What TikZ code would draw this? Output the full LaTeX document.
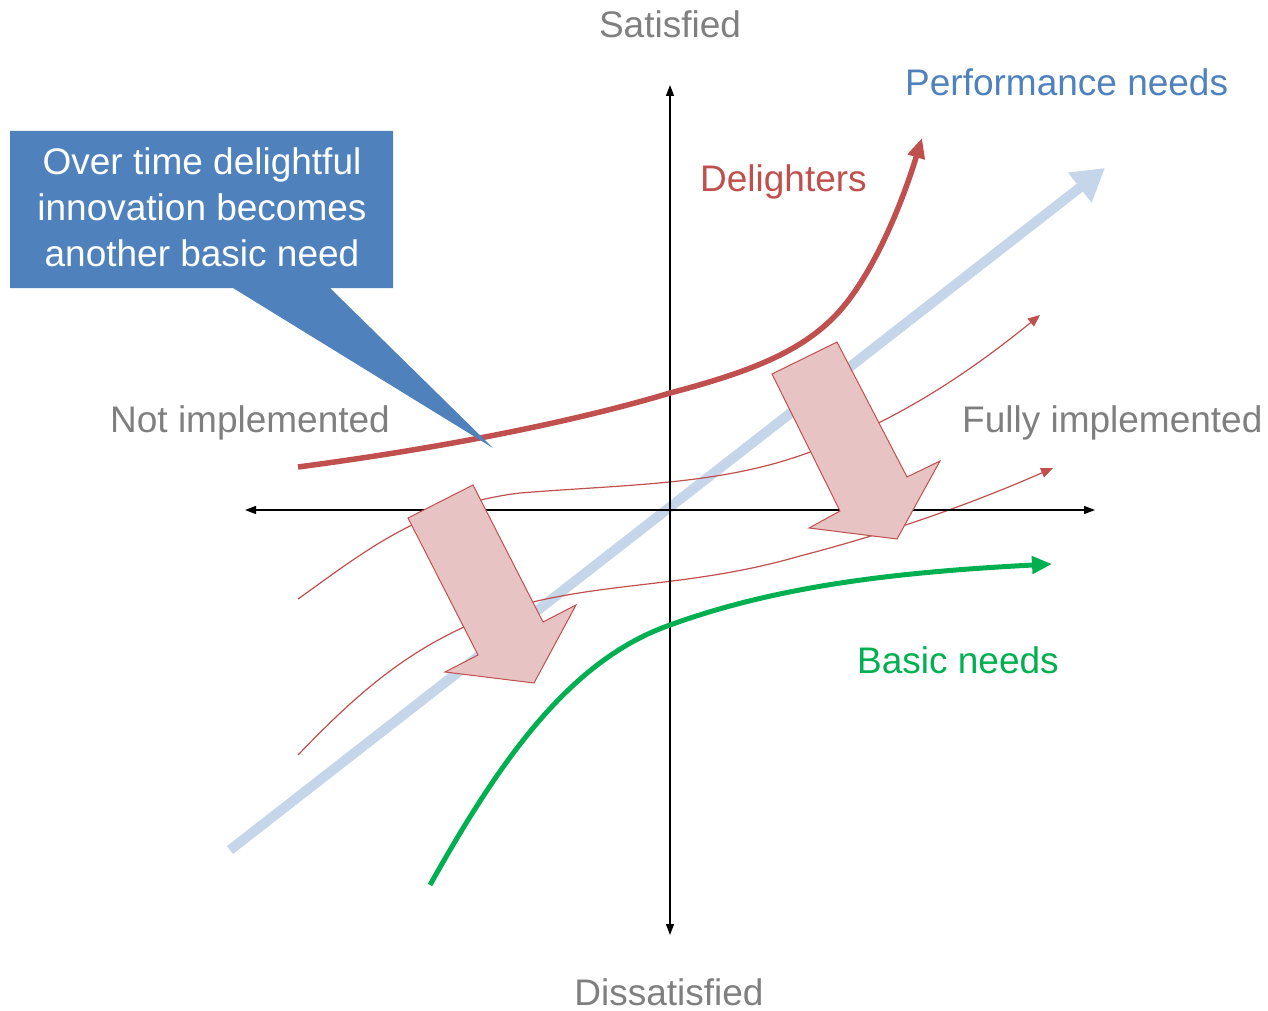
\documentclass[tikz,border=0pt]{standalone}
\usepackage{fontspec}
\setmainfont{Liberation Sans}
\usetikzlibrary{arrows.meta}
\definecolor{txtgray}{HTML}{7F7F7F}
\definecolor{dred}{HTML}{C0504D}
\definecolor{dblue}{HTML}{4F81BD}
\definecolor{lblue}{HTML}{C5D6EA}
\definecolor{dgreen}{HTML}{00B050}
\definecolor{pinkfill}{HTML}{E8C3C3}
\tikzset{
  lbl/.style={font=\fontsize{37}{46}\selectfont, inner sep=0pt},
  axisline/.style={line width=1.3pt, black, {Triangle[length=11pt,width=8pt]}-{Triangle[length=11pt,width=8pt]}},
  thincurve/.style={line width=1.2pt, dred, -{Triangle[length=12pt,width=10pt]}},
  bigarrow/.style={fill=pinkfill, draw=dred, line width=1pt, line join=miter},
}
\begin{document}
\begin{tikzpicture}[x=1pt,y=-1pt]
\useasboundingbox (0,0) rectangle (1268,1011);
% performance needs line
\coordinate (p0) at (230,850);
\coordinate (p1) at (1105,168);
\draw[line width=10pt, lblue, -{Triangle[length=32pt,width=36pt]}] (p0) -- (p1);
% thin transition curves
\coordinate (t1s) at (298,599);
\coordinate (t1e) at (1040,315);
\draw[thincurve] (t1s) .. controls (360,555) and (420,505) .. (520,493)
  .. controls (620,485) and (700,485) .. (780,462)
  .. controls (880,432) and (960,380) .. (t1e);
\coordinate (t2s) at (298,755);
\coordinate (t2e) at (1053,468);
\draw[thincurve] (t2s) .. controls (370,680) and (430,630) .. (537,601)
  .. controls (620,582) and (700,585) .. (800,556)
  .. controls (900,530) and (980,500) .. (t2e);
% axes
\coordinate (yb) at (670,935);
\coordinate (yt) at (670,85);
\coordinate (xl) at (245,510);
\coordinate (xr) at (1095,510);
\draw[axisline] (yb) -- (yt);
\draw[axisline] (xl) -- (xr);
% delighters
\coordinate (d0) at (298,467);
\coordinate (d1) at (922,138);
\draw[line width=5.5pt, dred, -{Triangle[length=20pt,width=17pt]}] (d0) .. controls (450,447) and (580,420) .. (670,393)
  .. controls (750,372) and (800,352) .. (835,316)
  .. controls (870,280) and (900,210) .. (d1);
% basic needs
\coordinate (g0) at (430,885);
\coordinate (g1) at (1052,564);
\draw[line width=5pt, dgreen, -{Triangle[length=20pt,width=17pt]}] (g0) .. controls (500,760) and (570,660) .. (670,625)
  .. controls (780,585) and (900,572) .. (g1);
% big pink arrows
\draw[bigarrow] (408,518) -- (473,485) -- (543,622) -- (576,605) -- (534,683) -- (445,672) -- (478,655) -- cycle;
\draw[bigarrow] (772,374) -- (837,342) -- (907,477) -- (940,461) -- (897,539) -- (809,528) -- (840,511) -- cycle;
% callout
\fill[dblue] (10,131) -- (393,131) -- (393,288) -- (330,288) -- (493,448) -- (233,288) -- (10,288) -- cycle;
\node[lbl, white, align=center, anchor=center] (call) at (202,207) {Over time delightful\\innovation becomes\\another basic need};
% labels
\node[lbl, txtgray, anchor=base] (sat) at (670,38) {Satisfied};
\node[lbl, txtgray, anchor=base] (dis) at (669,1005) {Dissatisfied};
\node[lbl, txtgray, anchor=base west] (noti) at (110,432) {Not implemented};
\node[lbl, txtgray, anchor=base west] (full) at (962,432) {Fully implemented};
\node[lbl, dblue, anchor=base west] (perf) at (905,96) {Performance needs};
\node[lbl, dred, anchor=base west] (deli) at (700,192) {Delighters};
\node[lbl, dgreen, anchor=base west] (basic) at (857,673) {Basic needs};
\end{tikzpicture}
\end{document}
